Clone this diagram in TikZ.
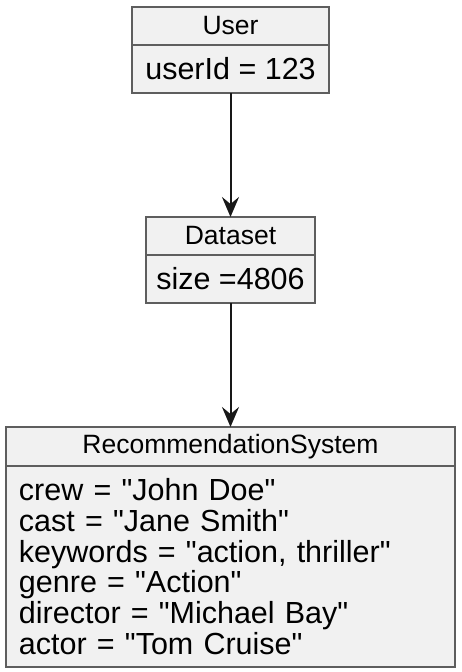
\documentclass[tikz,border=0pt]{standalone}
\usepackage{fontspec}
\setmainfont{Liberation Sans}[Ligatures=TeXOff]
\usetikzlibrary{arrows.meta,positioning}
\definecolor{ObjFill}{HTML}{F1F1F1}
\definecolor{ObjBorder}{HTML}{5E5E5E}
\definecolor{LinkColor}{HTML}{181818}

\begin{document}
\begin{tikzpicture}[
	x=1pt, y=1pt,
	node distance=124pt,
	objhead/.style={draw=ObjBorder, fill=ObjFill, line width=1.5pt, outer sep=0pt, inner sep=0pt, minimum height=38pt, align=center, font=\fontsize{26.5}{30}\selectfont},
	objbody/.style={draw=ObjBorder, fill=ObjFill, line width=1.5pt, outer sep=0pt, inner xsep=13pt, inner ysep=0pt, align=left, font=\fontsize{30.5}{30.7}\selectfont},
	link/.style={-{Stealth[length=20pt, width=17pt, inset=7pt]}, line width=2pt, draw=LinkColor}
]
\useasboundingbox (0,0) rectangle (462,-672);

% User object
\node[objhead, minimum width=197pt] (userHead) at (230.5,-26) {User};
\node[objbody, below=0pt of userHead, minimum width=197pt, minimum height=48pt] (userBody) {userId = 123};

% Dataset object
\node[objhead, minimum width=169pt, below=of userBody] (dataHead) {Dataset};
\node[objbody, below=0pt of dataHead, inner xsep=8pt, minimum width=169pt, minimum height=48pt] (dataBody) {size =4806};

% RecommendationSystem object
\node[objhead, minimum width=449pt, minimum height=39pt, below=of dataBody] (recHead) {RecommendationSystem};
\node[objbody, below=0pt of recHead, text width=423pt, minimum height=201pt] (recBody) {crew = "John Doe"\\cast = "Jane Smith"\\keywords = "action, thriller"\\genre = "Action"\\director = "Michael Bay"\\actor = "Tom Cruise"};

\draw[link] (userBody) -- (dataHead);
\draw[link] (dataBody) -- (recHead);
\end{tikzpicture}
\end{document}
